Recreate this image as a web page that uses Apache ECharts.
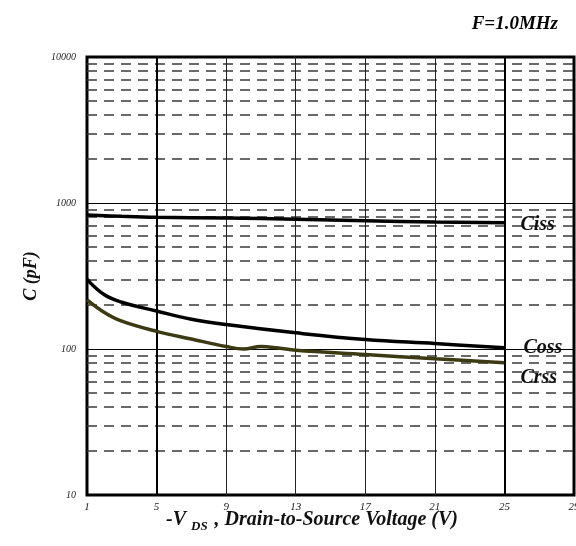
<!DOCTYPE html>
<html>
<head>
<meta charset="utf-8">
<script src="https://cdn.jsdelivr.net/npm/echarts@6/dist/echarts.min.js"></script>
<style>
html,body{margin:0;padding:0;background:#fff;}
#c{width:576px;height:546px;}
</style>
</head>
<body>
<div id="c"></div>
<script>
// ---- data ----
const cissV = [1, 3, 5, 9, 13, 17, 21, 25];
const cissC = [827, 810, 798, 789, 773, 756, 740, 732];

const cossV = [1, 2, 3, 5, 7, 9, 13, 17, 21, 25];
const cossC = [300, 235, 209, 182, 160, 147, 129, 116, 109, 102];

const crssV = [1, 2, 3, 5, 7, 9, 10, 11, 12, 13, 17, 21, 25];
const crssC = [217, 178, 155, 132, 117, 104, 100, 104, 101.5, 98, 91.7, 85.7, 80.4];

const xTicks = [1, 5, 9, 13, 17, 21, 25, 29];
const yTicks = [10, 100, 1000, 10000];
const xGridThick = [5, 25];
const xGridThin = [9, 13, 17, 21];
const yMinorGrid = [20, 30, 40, 50, 60, 70, 80, 90,
                    200, 300, 400, 500, 600, 700, 800, 900,
                    2000, 3000, 4000, 5000, 6000, 7000, 8000, 9000];

const serif = '"Liberation Serif", "DejaVu Serif", serif';

function pairs(xs, ys) { return xs.map((x, i) => [x, ys[i]]); }

const chart = echarts.init(document.getElementById('c'));

const markLines = [];
yMinorGrid.forEach(v => markLines.push({ yAxis: v, lineStyle: { type: [10, 7], color: '#3a3a3a', width: 1.5 } }));
xGridThick.forEach(v => markLines.push({ xAxis: v, lineStyle: { type: 'solid', color: '#000', width: 2 } }));
xGridThin.forEach(v => markLines.push({ xAxis: v, lineStyle: { type: 'solid', color: '#222', width: 1 } }));

function curveLabel(off) {
  return {
    show: true,
    formatter: '{a}',
    distance: 14,
    offset: off,
    fontFamily: serif,
    fontStyle: 'italic',
    fontWeight: 'bold',
    fontSize: 20,
    color: '#111'
  };
}

chart.setOption({
  animation: false,
  backgroundColor: '#fff',
  title: {
    text: 'F=1.0MHz',
    right: 13,
    top: 10,
    textStyle: { fontFamily: serif, fontStyle: 'italic', fontWeight: 'bold', fontSize: 19, color: '#000' }
  },
  grid: {
    left: 87, right: 2, top: 57, bottom: 51,
    outerBoundsMode: 'none',
    containLabel: false,
    show: true, borderColor: '#000', borderWidth: 3, backgroundColor: 'transparent'
  },
  xAxis: {
    type: 'value',
    min: 1, max: 29,
    axisLine: { show: false },
    axisTick: { show: false },
    splitLine: { show: false },
    axisLabel: {
      customValues: xTicks,
      margin: 7,
      fontFamily: serif, fontStyle: 'italic', fontSize: 11, color: '#222'
    }
  },
  yAxis: {
    type: 'log',
    logBase: 10,
    min: 10, max: 10000,
    name: 'C (pF)',
    nameLocation: 'middle',
    nameGap: 46,
    nameRotate: 90,
    nameTextStyle: { fontFamily: serif, fontStyle: 'italic', fontWeight: 'bold', fontSize: 18, color: '#111' },
    axisLine: { show: false },
    axisTick: { show: false },
    splitLine: { show: true, lineStyle: { color: '#000', width: 1 } },
    axisLabel: {
      margin: 11,
      fontFamily: serif, fontStyle: 'italic', fontSize: 10, color: '#222',
      padding: [0, 0, 5, 0],
      formatter: v => (yTicks.indexOf(v) >= 0 ? String(v) : '')
    }
  },
  graphic: [{
    type: 'text',
    left: 166,
    top: 510,
    style: {
      text: '{a|-V}{s|DS}{a| , Drain-to-Source Voltage (V)}',
      rich: {
        a: { fontFamily: serif, fontStyle: 'italic', fontWeight: 'bold', fontSize: 20, lineHeight: 26, fill: '#111' },
        s: { fontFamily: serif, fontStyle: 'italic', fontWeight: 'bold', fontSize: 13, lineHeight: 26, padding: [10, 2, 0, 5], verticalAlign: 'bottom', fill: '#111' }
      }
    }
  }],
  series: [
    {
      name: 'grid', type: 'line', data: [], z: 1, silent: true,
      markLine: { silent: true, symbol: ['none', 'none'], label: { show: false }, animation: false, data: markLines }
    },
    {
      name: 'Ciss', type: 'line', data: pairs(cissV, cissC), smooth: 0.4, showSymbol: false, z: 5,
      lineStyle: { color: '#000', width: 3.5 },
      endLabel: curveLabel([2, 2])
    },
    {
      name: 'Coss', type: 'line', data: pairs(cossV, cossC), smooth: 0.4, showSymbol: false, z: 5,
      lineStyle: { color: '#000', width: 3.5 },
      endLabel: curveLabel([5, 0])
    },
    {
      name: 'Crss', type: 'line', data: pairs(crssV, crssC), smooth: 0.4, showSymbol: false, z: 5,
      lineStyle: { color: '#3b3a12', width: 3.5 },
      endLabel: curveLabel([2, 15])
    }
  ]
});
</script>
</body>
</html>
